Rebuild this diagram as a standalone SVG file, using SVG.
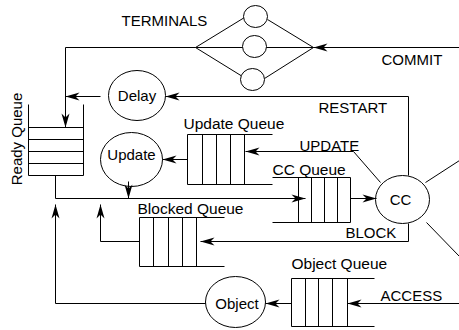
<svg xmlns="http://www.w3.org/2000/svg" width="459" height="330" viewBox="0 0 459 330">
<style>
.ln{fill:none;stroke:#000;stroke-width:1}
.el{fill:#fff;stroke:#000;stroke-width:1}
.t{font-family:"Liberation Sans",Arial,sans-serif;font-size:15px;fill:#000}
.q{font-size:15.5px}
.c{text-anchor:middle}
.ar{fill:none;stroke:#000;stroke-width:1;marker-end:url(#ah)}
</style>
<defs>
<marker id="ah" viewBox="-15 -5 16 10" refX="0" refY="0" markerWidth="16" markerHeight="10" markerUnits="userSpaceOnUse" orient="auto">
<path d="M0,0 L-14,-4 L-10,0 L-14,4 Z" fill="#000"/>
</marker>
</defs>
<rect width="459" height="330" fill="#fff"/>
<g transform="translate(0.5,0.5)">
<g id="terminals">
<path class="ln" d="M195,47 L244,17 M195,47 L242,76 M267,19 L313,47 L264,78 M195,47 H313"/>
<ellipse class="el" cx="255" cy="16" rx="12" ry="11"/>
<ellipse class="el" cx="254" cy="46" rx="12" ry="11"/>
<ellipse class="el" cx="252" cy="79" rx="12" ry="11"/>
<text class="t" x="121" y="25" font-size="14.3">TERMINALS</text>
</g>
<g id="ready-queue">
<path class="ln" d="M28,104 V175 H83 V104 M28,127 H83 M28,139 H83 M28,151 H83 M28,163 H83"/>
<text class="t c" transform="translate(21,138.5) rotate(-90)" font-size="14">Ready Queue</text>
</g>
<g id="delay">
<ellipse class="el" cx="136.5" cy="95" rx="28.5" ry="25"/>
<text class="t c" x="136.5" y="100">Delay</text>
</g>
<g id="update">
<ellipse class="el" cx="131" cy="159" rx="31" ry="27"/>
<text class="t c" x="131" y="159">Update</text>
</g>
<g id="update-queue">
<path class="ln" d="M272,134 H187 V184 H272 M202,134 V184 M216,134 V184 M230,134 V184 M244,134 V184"/>
<text class="t q" x="183" y="128">Update Queue</text>
</g>
<g id="cc-queue">
<path class="ln" d="M272,177 H350 V222 H272 M298,177 V222 M311,177 V222 M324,177 V222 M337,177 V222"/>
<text class="t q" x="272" y="174">CC Queue</text>
</g>
<g id="blocked-queue">
<path class="ln" d="M224,217 H139 V266 H224 M153,217 V266 M168,217 V266 M182,217 V266 M196,217 V266"/>
<text class="t q" x="137" y="213">Blocked Queue</text>
</g>
<g id="cc">
<ellipse class="el" cx="402" cy="199" rx="27" ry="24"/>
<text class="t c" x="400" y="204">CC</text>
</g>
<g id="object-queue">
<path class="ln" d="M374,278 H291 V326 H374 M305,278 V326 M318,278 V326 M332,278 V326 M347,278 V326"/>
<text class="t q" x="291" y="268">Object Queue</text>
</g>
<g id="object">
<ellipse class="el" cx="235" cy="301.5" rx="30" ry="25.5"/>
<text class="t c" x="236.5" y="308">Object</text>
</g>
<g id="connectors">
<path class="ar" d="M459,47 H313"/>
<path class="ar" d="M195,47 H65 V127"/>
<path class="ar" d="M100,96 H65"/>
<path class="ar" d="M408,175 V96 H165"/>
<path class="ar" d="M380,182 L353,151 H245"/>
<path class="ar" d="M187,159 H162"/>
<path class="ar" d="M128,181 V198"/>
<path class="ar" d="M55,175 V198 H305"/>
<path class="ar" d="M350,198 H376"/>
<path class="ar" d="M408,223 V241 H200"/>
<path class="ar" d="M139,241 H100 V204"/>
<path class="ar" d="M205,303 H55 V204"/>
<path class="ar" d="M291,303 H265"/>
<path class="ar" d="M459,303 H347"/>
<path class="ln" d="M425,182 L459,160 M426,222 L459,256"/>
<text class="t" x="381" y="64" font-size="14.3">COMMIT</text>
<text class="t" x="318" y="112">RESTART</text>
<text class="t" x="299" y="150">UPDATE</text>
<text class="t" x="345" y="237">BLOCK</text>
<text class="t" x="380" y="300">ACCESS</text>
</g>
</g>
</svg>
